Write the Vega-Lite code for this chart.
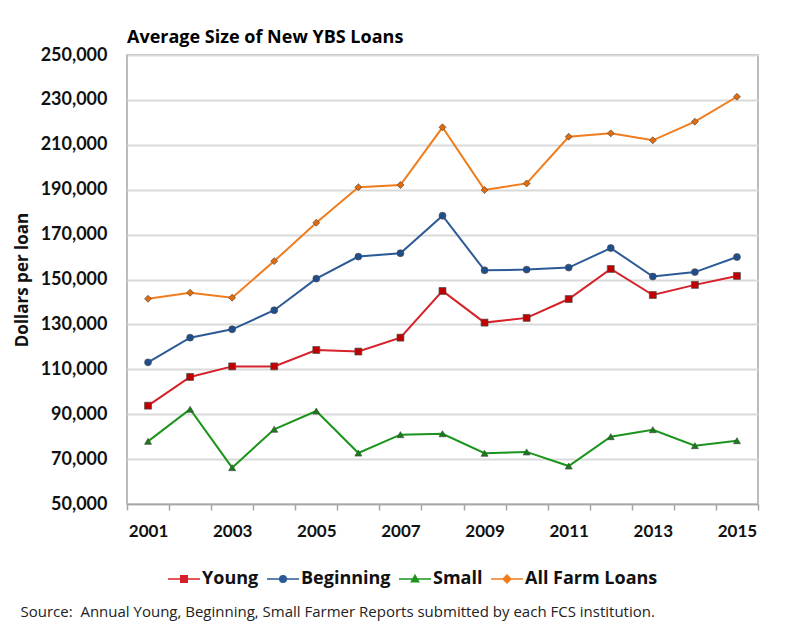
{
  "$schema": "https://vega.github.io/schema/vega-lite/v6.json",
  "width": 631,
  "height": 449,
  "autosize": "none",
  "padding": {"left": 127, "top": 55, "right": 30, "bottom": 124},
  "background": "white",
  "config": {
    "font": "Lato",
    "view": {"stroke": "#a6a6a6", "strokeWidth": 1.5}
  },
  "title": {
    "text": "Average Size of New YBS Loans",
    "anchor": "start",
    "frame": "group",
    "fontSize": 18,
    "fontWeight": "bold",
    "font": "Open Sans",
    "color": "#000000",
    "baseline": "alphabetic",
    "offset": 14,
    "dy": 29
  },
  "data": {
    "values": [
      {"year": "2001", "series": "Young", "value": 93800},
      {"year": "2002", "series": "Young", "value": 106600},
      {"year": "2003", "series": "Young", "value": 111300},
      {"year": "2004", "series": "Young", "value": 111300},
      {"year": "2005", "series": "Young", "value": 118600},
      {"year": "2006", "series": "Young", "value": 117900},
      {"year": "2007", "series": "Young", "value": 124100},
      {"year": "2008", "series": "Young", "value": 144900},
      {"year": "2009", "series": "Young", "value": 130800},
      {"year": "2010", "series": "Young", "value": 132900},
      {"year": "2011", "series": "Young", "value": 141300},
      {"year": "2012", "series": "Young", "value": 154700},
      {"year": "2013", "series": "Young", "value": 143100},
      {"year": "2014", "series": "Young", "value": 147600},
      {"year": "2015", "series": "Young", "value": 151600},
      {"year": "2001", "series": "Beginning", "value": 113100},
      {"year": "2002", "series": "Beginning", "value": 124100},
      {"year": "2003", "series": "Beginning", "value": 127800},
      {"year": "2004", "series": "Beginning", "value": 136300},
      {"year": "2005", "series": "Beginning", "value": 150400},
      {"year": "2006", "series": "Beginning", "value": 160200},
      {"year": "2007", "series": "Beginning", "value": 161700},
      {"year": "2008", "series": "Beginning", "value": 178400},
      {"year": "2009", "series": "Beginning", "value": 154100},
      {"year": "2010", "series": "Beginning", "value": 154400},
      {"year": "2011", "series": "Beginning", "value": 155300},
      {"year": "2012", "series": "Beginning", "value": 164000},
      {"year": "2013", "series": "Beginning", "value": 151300},
      {"year": "2014", "series": "Beginning", "value": 153300},
      {"year": "2015", "series": "Beginning", "value": 160000},
      {"year": "2001", "series": "Small", "value": 77900},
      {"year": "2002", "series": "Small", "value": 92200},
      {"year": "2003", "series": "Small", "value": 66200},
      {"year": "2004", "series": "Small", "value": 83300},
      {"year": "2005", "series": "Small", "value": 91400},
      {"year": "2006", "series": "Small", "value": 72700},
      {"year": "2007", "series": "Small", "value": 80900},
      {"year": "2008", "series": "Small", "value": 81300},
      {"year": "2009", "series": "Small", "value": 72600},
      {"year": "2010", "series": "Small", "value": 73200},
      {"year": "2011", "series": "Small", "value": 66900},
      {"year": "2012", "series": "Small", "value": 80000},
      {"year": "2013", "series": "Small", "value": 83100},
      {"year": "2014", "series": "Small", "value": 76000},
      {"year": "2015", "series": "Small", "value": 78200},
      {"year": "2001", "series": "All Farm Loans", "value": 141400},
      {"year": "2002", "series": "All Farm Loans", "value": 144100},
      {"year": "2003", "series": "All Farm Loans", "value": 141900},
      {"year": "2004", "series": "All Farm Loans", "value": 158200},
      {"year": "2005", "series": "All Farm Loans", "value": 175300},
      {"year": "2006", "series": "All Farm Loans", "value": 191100},
      {"year": "2007", "series": "All Farm Loans", "value": 192100},
      {"year": "2008", "series": "All Farm Loans", "value": 217800},
      {"year": "2009", "series": "All Farm Loans", "value": 189900},
      {"year": "2010", "series": "All Farm Loans", "value": 192800},
      {"year": "2011", "series": "All Farm Loans", "value": 213600},
      {"year": "2012", "series": "All Farm Loans", "value": 215100},
      {"year": "2013", "series": "All Farm Loans", "value": 212000},
      {"year": "2014", "series": "All Farm Loans", "value": 220300},
      {"year": "2015", "series": "All Farm Loans", "value": 231400}
    ]
  },
  "encoding": {
    "x": {
      "field": "year",
      "type": "ordinal",
      "scale": {"type": "band", "paddingInner": 0, "paddingOuter": 0},
      "axis": {
        "title": "Source:\u00a0 Annual Young, Beginning, Small Farmer Reports submitted by each FCS institution.",
        "titleX": -107,
        "titleY": 112,
        "titleAlign": "left",
        "titleAnchor": "start",
        "titleBaseline": "alphabetic",
        "titleFont": "Open Sans",
        "titleFontSize": 15,
        "titleFontWeight": "normal",
        "titleColor": "#222222",
        "labelAngle": 0,
        "labelExpr": "toNumber(datum.value) % 2 == 1 ? datum.label : ''",
        "labelFont": "Lato",
        "labelFontSize": 17,
        "labelFontWeight": "bold",
        "labelColor": "#111111",
        "labelPadding": 13,
        "tickBand": "extent",
        "ticks": true,
        "tickSize": 6,
        "tickColor": "#a6a6a6",
        "tickWidth": 1.5,
        "domainColor": "#a6a6a6",
        "domainWidth": 1.5,
        "grid": false
      }
    },
    "y": {
      "field": "value",
      "type": "quantitative",
      "scale": {"domain": [50000, 250000], "nice": false, "zero": false},
      "axis": {
        "title": "Dollars per loan",
        "titleFont": "Open Sans",
        "titleFontSize": 17,
        "titleFontWeight": "bold",
        "titleColor": "#111111",
        "titlePadding": 9,
        "values": [50000, 70000, 90000, 110000, 130000, 150000, 170000, 190000, 210000, 230000, 250000],
        "format": ",.0f",
        "labelFont": "Lato",
        "labelFontSize": 18,
        "labelFontWeight": "bold",
        "labelColor": "#111111",
        "labelPadding": 20,
        "ticks": false,
        "domain": false,
        "grid": true,
        "gridColor": "#d9d9d9",
        "gridWidth": 1.8
      }
    }
  },
  "layer": [
    {
      "mark": {"type": "line", "strokeWidth": 2},
      "encoding": {
        "color": {
          "field": "series",
          "type": "nominal",
          "scale": {
            "domain": ["Young", "Beginning", "Small", "All Farm Loans"],
            "range": ["#d6202a", "#2c5a96", "#1b941b", "#f07c1c"]
          },
          "legend": {
            "orient": "none",
            "legendX": 40,
            "legendY": 507,
            "direction": "horizontal",
            "title": null,
            "labelFont": "Open Sans",
            "labelFontSize": 18,
            "labelFontWeight": "bold",
            "labelColor": "#111111",
            "labelOffset": 1,
            "columnPadding": 4,
            "symbolSize": 1024,
            "symbolStrokeWidth": 1.6,
            "encode": {
              "symbols": {
                "update": {
                  "shape": {"signal": "datum.value === 'Young' ? 'M-1,0H1M-0.2,-0.2H0.2V0.2H-0.2Z' : datum.value === 'Beginning' ? 'M-1,0H1M0.2,0A0.2,0.2 0 1,1 -0.2,0A0.2,0.2 0 1,1 0.2,0Z' : datum.value === 'Small' ? 'M-1,0H1M0,-0.22L0.22,0.17L-0.22,0.17Z' : 'M-1,0H1M0,-0.24L0.24,0L0,0.24L-0.24,0Z'"},
                  "fill": {"signal": "scale('color', datum.value)"},
                  "stroke": {"signal": "scale('color', datum.value)"},
                  "size": {"value": 1024},
                  "strokeWidth": {"value": 1.6}
                }
              }
            }
          }
        }
      }
    },
    {
      "mark": {"type": "point", "filled": true, "opacity": 1, "size": 48, "stroke": "#4a4a4a", "strokeWidth": 0.7},
      "encoding": {
        "shape": {
          "condition": [
            {"test": "datum.series === 'Young'", "value": "square"},
            {"test": "datum.series === 'Beginning'", "value": "circle"},
            {"test": "datum.series === 'Small'", "value": "triangle-up"}
          ],
          "value": "diamond"
        },
        "fill": {
          "condition": [
            {"test": "datum.series === 'Young'", "value": "#c00000"},
            {"test": "datum.series === 'Beginning'", "value": "#1f4e8c"},
            {"test": "datum.series === 'Small'", "value": "#138013"}
          ],
          "value": "#e36c0a"
        }
      }
    }
  ]
}
